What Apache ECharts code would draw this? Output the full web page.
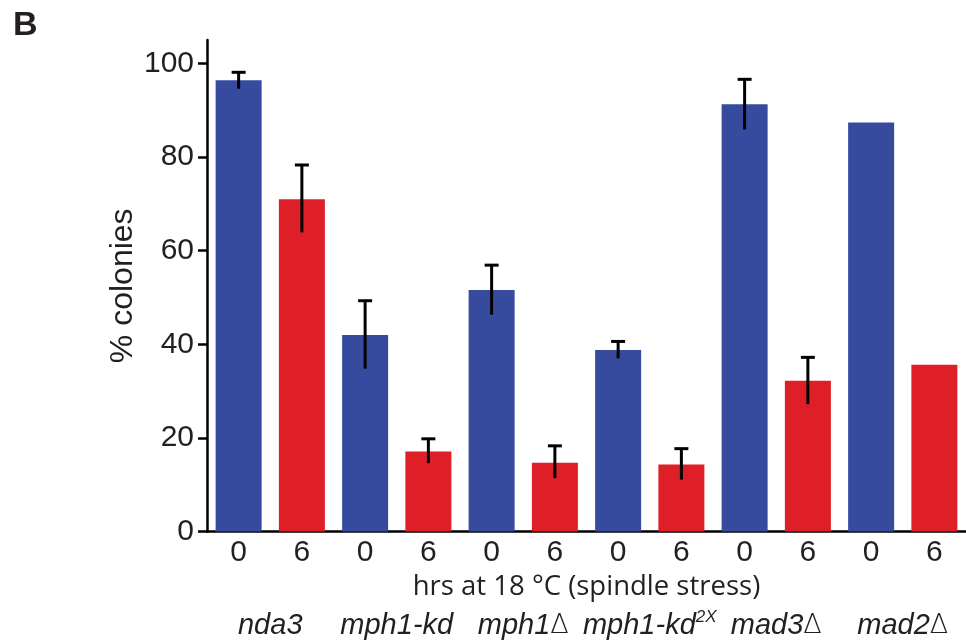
<!DOCTYPE html>
<html>
<head>
<meta charset="utf-8">
<script src="https://cdn.jsdelivr.net/npm/echarts@6/dist/echarts.min.js"></script>
<style>
  html, body { margin: 0; padding: 0; background: #fff; }
  #main { width: 966px; height: 640px; }
</style>
</head>
<body>
<div id="main"></div>
<script>
// hours at 18 °C for each bar
var hours = ["0", "6", "0", "6", "0", "6", "0", "6", "0", "6", "0", "6"];
// strain names, one per pair of bars
var strains = ["nda3", "mph1-kd", "mph1Δ", "mph1-kd^2X", "mad3Δ", "mad2Δ"];
// % colonies
var values = [96.4, 71.0, 42.0, 17.1, 51.6, 14.7, 38.8, 14.3, 91.3, 32.2, 87.4, 35.6];
// error bar ends (null = no error bar)
var errLow = [94.6, 63.9, 34.8, 14.6, 46.3, 11.4, 37.0, 11.1, 85.9, 27.2, null, null];
var errHigh = [98.1, 78.3, 49.3, 19.8, 56.9, 18.3, 40.6, 17.7, 96.6, 37.2, null, null];
var yTicks = [0, 20, 40, 60, 80, 100];

var blue = "#364a9e";
var red = "#df1f27";
var font = "Liberation Sans, Arial, sans-serif";
var ink = "#231f20";

var myChart = echarts.init(document.getElementById("main"));

var errData = [];
for (var i = 0; i < values.length; i++) {
  if (errLow[i] != null) errData.push([i, errLow[i], errHigh[i]]);
}

// italic gene names, upright delta, superscript after ^
function strainLabel(v) {
  var p = v.split("^");
  var s = "{n|" + p[0].replace("Δ", "}{d|Δ}{n|") + "}";
  s = s.replace("{n|}", "");
  if (p.length > 1) s += "{sup|" + p[1] + "}";
  return s;
}

myChart.setOption({
  animation: false,
  title: {
    text: "B",
    left: 8,
    top: 4,
    textStyle: { fontFamily: font, fontSize: 34, fontWeight: "bold", color: ink },
  },
  grid: { left: 207, top: 40, width: 763, height: 493 },
  xAxis: [
    {
      type: "category",
      data: hours,
      axisLine: { lineStyle: { color: "#000", width: 2.5 } },
      axisTick: { show: false },
      axisLabel: { fontFamily: font, fontSize: 30, color: ink, margin: 6 },
      name: "hrs at 18 °C (spindle stress)",
      nameLocation: "middle",
      nameGap: 42,
      nameMoveOverlap: false,
      nameTextStyle: { fontFamily: "Open Sans, sans-serif", fontSize: 27.5, color: ink },
    },
    {
      type: "category",
      data: strains,
      position: "bottom",
      offset: 69,
      axisLine: { show: false },
      axisTick: { show: false },
      axisLabel: {
        interval: 0,
        hideOverlap: false,
        color: ink,
        formatter: strainLabel,
        rich: {
          n: { fontFamily: font, fontSize: 29, fontStyle: "italic", color: ink, lineHeight: 34 },
          d: { fontFamily: "DejaVu Sans, sans-serif", fontSize: 27, fontWeight: 300, color: ink, lineHeight: 34 },
          sup: { fontFamily: font, fontSize: 17, fontStyle: "italic", color: ink, lineHeight: 20, verticalAlign: "top" },
        },
      },
    },
  ],
  yAxis: {
    type: "value",
    min: 0,
    max: 105,
    interval: 20,
    splitLine: { show: false },
    axisLine: { show: true, lineStyle: { color: "#000", width: 2.5 } },
    axisTick: { show: true, length: 9, customValues: yTicks, lineStyle: { color: "#000", width: 2.5 } },
    axisLabel: { fontFamily: font, fontSize: 30, color: ink, margin: 13, customValues: yTicks },
    name: "% colonies",
    nameLocation: "middle",
    nameGap: 68,
    nameMoveOverlap: false,
    nameTextStyle: { fontFamily: font, fontSize: 32, color: ink },
  },
  series: [
    {
      type: "bar",
      barWidth: 46,
      data: values.map(function (v, i) {
        return { value: v, itemStyle: { color: i % 2 === 0 ? blue : red } };
      }),
    },
    {
      type: "custom",
      data: errData,
      z: 10,
      renderItem: function (params, api) {
        var x = api.value(0);
        var lo = api.coord([x, api.value(1)]);
        var hi = api.coord([x, api.value(2)]);
        var half = 7;
        var style = { stroke: "#000", lineWidth: 3 };
        return {
          type: "group",
          children: [
            { type: "line", shape: { x1: lo[0], y1: lo[1], x2: hi[0], y2: hi[1] }, style: style },
            { type: "line", shape: { x1: hi[0] - half, y1: hi[1], x2: hi[0] + half, y2: hi[1] }, style: style },
          ],
        };
      },
    },
  ],
});
</script>
</body>
</html>
